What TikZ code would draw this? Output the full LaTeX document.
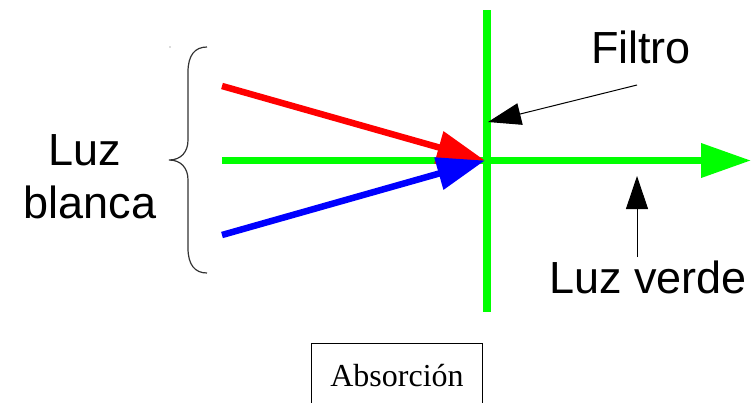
\documentclass[tikz,border=0pt]{standalone}
\usepackage{fontspec}
\setmainfont{Liberation Sans}
\newfontfamily\serifA{Liberation Serif}
\usetikzlibrary{arrows.meta}
\definecolor{lgreen}{RGB}{0,255,0}
\definecolor{lred}{RGB}{255,0,0}
\definecolor{lblue}{RGB}{0,0,255}
\tikzset{
  ray/.style={line width=6.5pt, -{Triangle[length=48pt,width=32pt]}},
  pointer/.style={line width=1pt, black, -{Triangle[length=33pt,width=22pt]}},
  bigtext/.style={font=\fontsize{45}{53}\selectfont, inner sep=0pt, anchor=base},
}
\begin{document}
\begin{tikzpicture}[x=1pt,y=-1pt]
\useasboundingbox (0,0) rectangle (754,402);
% coordinates
\coordinate (r0) at (222,86);
\coordinate (g0) at (222,160.5);
\coordinate (b0) at (222,235);
\coordinate (hit) at (485,160.5);
\coordinate (gend) at (751,160.5);
\coordinate (ftop) at (487,10);
\coordinate (fbot) at (487,312);
\coordinate (fp0) at (637,85);
\coordinate (fp1) at (488,122);
\coordinate (vp0) at (637,257);
\coordinate (vp1) at (637,176);
% filter
\draw[lgreen, line width=8pt] (ftop) -- (fbot);
% rays
\draw[lgreen, line width=7pt, -{Triangle[length=50pt,width=33pt]}] (g0) -- (gend);
\draw[ray, lred] (r0) -- (hit);
\draw[ray, lblue] (b0) -- (hit);
% pointers
\draw[pointer] (fp0) -- (fp1);
\draw[pointer] (vp0) -- (vp1);
% brace
\draw[black!80, line width=1.2pt]
  (207,47) .. controls (195,47) and (188,55) .. (188,72) -- (188,140)
  .. controls (188,152) and (181,160) .. (169,160)
  .. controls (181,160) and (188,168) .. (188,180) -- (188,248)
  .. controls (188,265) and (195,273) .. (207,273);
\fill[black!60] (170,47) circle (0.6pt);
% texts
\node[bigtext] (luz) at (85,165) {Luz};
\node[bigtext] (blanca) at (90,218) {blanca};
\node[bigtext] (filtro) at (641,63) {Filtro};
\node[bigtext] (verde) at (648,293) {Luz verde};
% box
\draw[black, line width=0.8pt] (311,403) -- (311,343.5) -- (482,343.5) -- (482,403);
\node[font=\serifA\fontsize{32}{38}\selectfont, inner sep=0pt, anchor=base] (abs) at (397,386) {Absorción};
\end{tikzpicture}
\end{document}
